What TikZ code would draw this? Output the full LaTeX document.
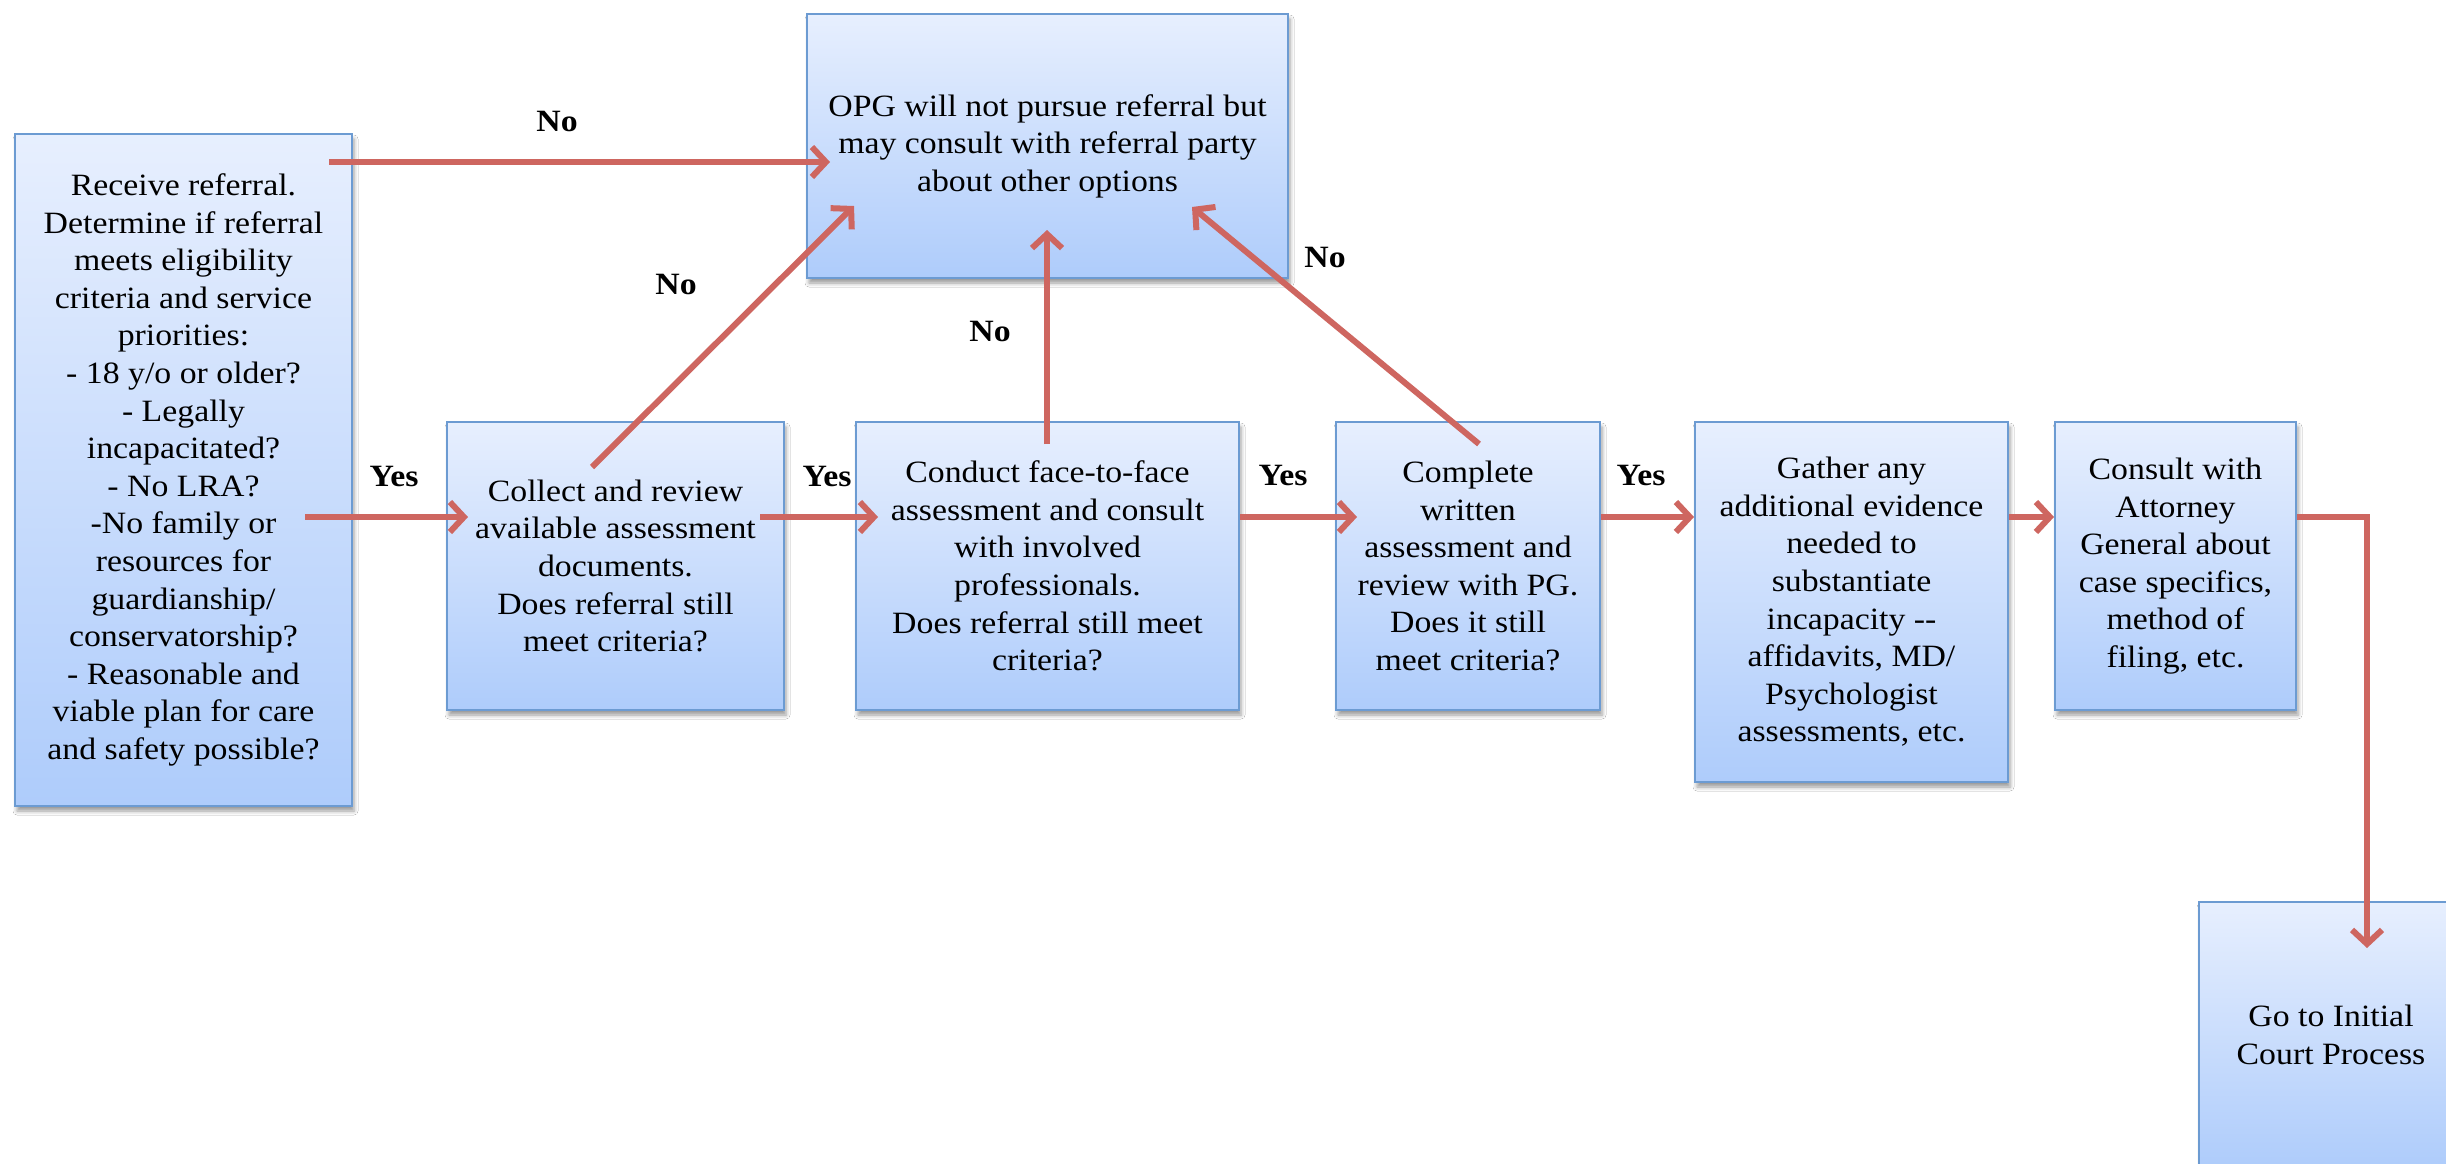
\documentclass[tikz,border=0pt]{standalone}
\usepackage{fontspec}
\setmainfont{Liberation Serif}[FakeStretch=1.09]
\usetikzlibrary{arrows.meta,calc,shadows.blur}
\definecolor{boxtop}{RGB}{231,239,254}
\definecolor{boxbot}{RGB}{174,204,251}
\definecolor{boxline}{RGB}{108,155,210}
\definecolor{arrred}{RGB}{206,102,96}
\begin{document}
\begin{tikzpicture}[x=1pt,y=-1pt,
  flowbox/.style={draw=boxline, line width=2pt, top color=boxtop, bottom color=boxbot,
    inner sep=0pt, align=center, anchor=north west,
    font=\fontsize{31}{37.6}\selectfont,
    blur shadow={shadow xshift=2pt, shadow yshift=-5pt, shadow blur radius=4pt, shadow opacity=40}},
  arr/.style={draw=arrred, line width=6pt, -{Straight Barb[length=14pt,width=30pt]}},
  lab/.style={font=\bfseries\fontsize{31}{36}\selectfont, inner sep=0pt}]
\clip (0,0) rectangle (2446,1163);
\fill[white] (0,0) rectangle (2446,1163);

\node[flowbox, minimum width=337pt, minimum height=672pt] (A) at (14,133)
  {Receive referral.\\Determine if referral\\meets eligibility\\criteria and service\\priorities:\\- 18 y/o or older?\\- Legally\\incapacitated?\\- No LRA?\\-No family or\\resources for\\guardianship/\\conservatorship?\\- Reasonable and\\viable plan for care\\and safety possible?};
\node[flowbox, minimum width=481pt, minimum height=264pt] (B) at (806,13)
  {OPG will not pursue referral but\\may consult with referral party\\about other options};
\node[flowbox, minimum width=337pt, minimum height=288pt] (C) at (446,421)
  {Collect and review\\available assessment\\documents.\\Does referral still\\meet criteria?};
\node[flowbox, minimum width=383pt, minimum height=288pt] (D) at (855,421)
  {Conduct face-to-face\\assessment and consult\\with involved\\professionals.\\Does referral still meet\\criteria?};
\node[flowbox, minimum width=264pt, minimum height=288pt] (E) at (1335,421)
  {Complete\\written\\assessment and\\review with PG.\\Does it still\\meet criteria?};
\node[flowbox, minimum width=313pt, minimum height=360pt] (F) at (1694,421)
  {Gather any\\additional evidence\\needed to\\substantiate\\incapacity {-}{-}\\affidavits, MD/\\Psychologist\\assessments, etc.};
\node[flowbox, minimum width=241pt, minimum height=288pt] (G) at (2054,421)
  {Consult with\\Attorney\\General about\\case specifics,\\method of\\filing, etc.};
\node[flowbox, minimum width=264pt, minimum height=266pt] (H) at (2198,901)
  {Go to Initial\\Court Process};

% connectors
\draw[arr] ($(A.north east)+(-24,29)$) -- ($(B.north west)+(24,149)$);
\draw[arr] ($(A.north east)+(-48,384)$) -- ($(C.north west)+(22,96)$);
\draw[arr] ($(C.north west)+(146,46)$) -- ($(B.north west)+(48,193)$);
\draw[arr] ($(C.north east)+(-25,96)$) -- ($(D.north west)+(23,96)$);
\draw[arr] ($(D.north west)+(192,23)$) -- ($(B.north west)+(241,217)$);
\draw[arr] ($(D.north east)+(0,96)$) -- ($(E.north west)+(22,96)$);
\draw[arr] ($(E.north west)+(144,23)$) -- ($(B.north west)+(386,194)$);
\draw[arr] ($(E.north east)+(0,96)$) -- ($(F.north west)+(0,96)$);
\draw[arr] ($(F.north east)+(0,96)$) -- ($(G.north west)+(0,96)$);
\draw[arr] ($(G.north east)+(0,96)$) -| ($(H.north west)+(169,47)$);

% labels
\node[lab] (no1) at (557,121) {No};
\node[lab] (no2) at (676,284) {No};
\node[lab] (no3) at (990,331) {No};
\node[lab] (no4) at (1325,257) {No};
\node[lab] (yes1) at (394,476) {Yes};
\node[lab] (yes2) at (827,476) {Yes};
\node[lab] (yes3) at (1283,475) {Yes};
\node[lab] (yes4) at (1641,475) {Yes};
\end{tikzpicture}
\end{document}
